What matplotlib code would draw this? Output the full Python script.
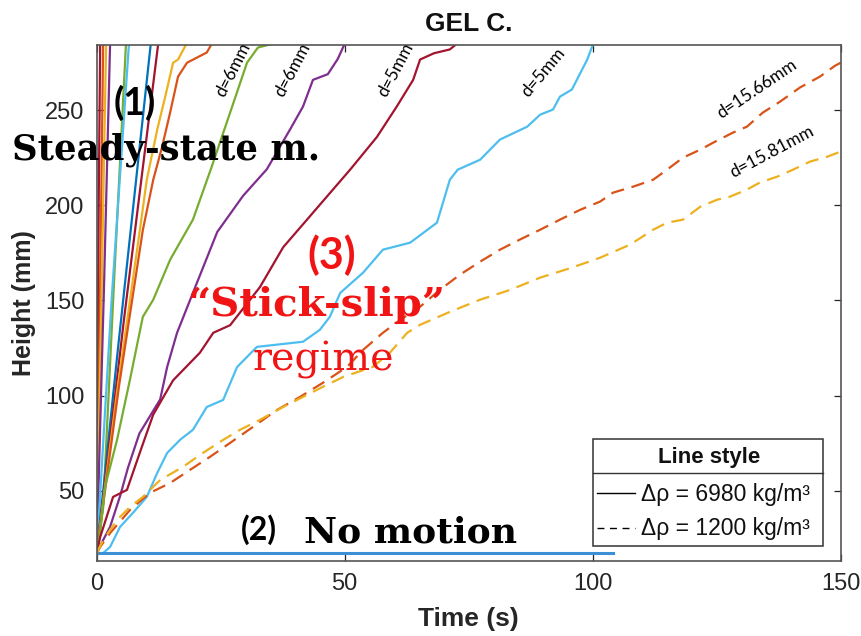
import matplotlib
matplotlib.use('Agg')
import matplotlib.pyplot as plt
from matplotlib.lines import Line2D
from matplotlib.patches import Rectangle

plt.rcParams['font.family'] = ['Liberation Sans', 'DejaVu Sans']

# ---------------- data (time s, height mm) ----------------
# steady-state (fast) runs, solid lines
t_ss1 = [0, 0.4, 0.7];            h_ss1 = [17.2, 200, 285]
t_ss2 = [0, 0.8, 1.3];            h_ss2 = [17.2, 180, 285]
t_ss3 = [0, 1.1, 1.9];            h_ss3 = [17.2, 170, 285]
t_ss4 = [0, 1.5, 2.7];            h_ss4 = [17.2, 160, 285]
t_ss5 = [0, 1.3, 3.5, 5.9];       h_ss5 = [17.2, 41, 160, 285]
t_ss6 = [0, 3.0, 6.5];            h_ss6 = [17.2, 150, 285]
t_ss7 = [0, 4.3, 10.9];           h_ss7 = [17.2, 125, 285]
t_ss8 = [0, 5.5, 12.4];           h_ss8 = [17.2, 140, 285]
t_ss9 = [0, 4, 8.7, 10.1, 12.2, 13.8, 15.4, 16.4, 18.1]
h_ss9 = [17.2, 100, 187, 213.5, 239.8, 257, 275, 276.7, 285]
t_ss10 = [0, 4.5, 9.3, 11.4, 13.2, 14.8, 16.4, 18.2, 22.2, 23.2]
h_ss10 = [17.2, 105, 187, 213.5, 230.9, 248.8, 267.7, 275, 280.4, 285]

# stick-slip runs, solid lines
t_green6 = [0, 0.67, 1.67, 4.1, 6.7, 9.3, 11.4, 14.8, 19.4, 23.2, 26.9, 30.3, 32.5, 35.5]
h_green6 = [17.2, 27.7, 51.9, 76.7, 108.3, 141.4, 150.4, 171.4, 192.5, 220.4, 248.8, 275, 283, 285]
t_purple6 = [0, 1.3, 2.7, 4.7, 6.3, 8.6, 12.8, 14.2, 16.2, 19.4, 24.3, 29.5, 34.3, 39, 41.6, 43.6, 46.6, 48.6, 50]
h_purple6 = [17.2, 24, 31, 47, 62, 80, 98, 115, 133, 154, 186, 205, 219, 240, 252, 266, 269, 277, 285]
t_red5 = [0, 0.7, 3.3, 6.1, 8.7, 11.4, 15.4, 20.8, 23.5, 26.9, 32.9, 37.6, 42.4, 46.4, 51.1, 56.5, 60.5, 63.8, 65.2, 68, 71.2, 72.6]
h_red5 = [17.2, 25.6, 46.7, 50.4, 70, 90, 108, 122.5, 133, 137, 157, 178, 192.5, 204.6, 218.8, 236, 252, 266, 276.7, 280, 282, 285]
t_blue5 = [0, 1.3, 2.7, 4.7, 7.3, 10.1, 12.2, 14.2, 16.8, 19.4, 22.2, 25.5, 28.3, 32.3, 41.6, 45, 47, 49.1, 53.7, 57.7,
           63.2, 68.6, 71.2, 72.8, 77.3, 81.3, 86.8, 89.4, 92, 93.4, 95.8, 98.9, 100.1]
h_blue5 = [17.2, 17.2, 20.4, 30.9, 38.3, 46.7, 59.3, 69.8, 76.7, 82, 94, 97.7, 115, 125.6, 128.3, 134.6, 141.4, 154, 164.6, 176.7,
           180.4, 190.9, 213.5, 218.8, 224, 234.6, 241.4, 247.7, 250.4, 257.2, 260.9, 276.7, 285]

# no motion
t_nomotion = [0, 104]
h_nomotion = [17.2, 17.2]

# light spheres, dashed lines
t_d1566 = [0, 0.7, 2.7, 6.7, 10.7, 14.8, 18.8, 22.8, 26.9, 31.5, 36.4, 41, 45.6, 50.5, 53.7, 57.7, 61.2, 65.2, 69.2, 73.2,
           77.3, 81.3, 85.3, 89.4, 93.4, 97.5, 101.5, 104.1, 108.1, 112.2, 115, 118.2, 121.7, 124.3, 128.3, 131.1, 134.3,
           137.8, 141.8, 145.8, 148.9, 150]
h_d1566 = [17.2, 20.4, 27.7, 39.8, 48.8, 54, 60.9, 67.7, 75.1, 83.5, 92.5, 99.3, 106.7, 115.1, 124, 133, 139.8, 146.7, 155.6, 163.5,
           170.4, 176.7, 182, 187.2, 192.5, 197.7, 202, 206.7, 209.8, 213.5, 218.8, 225.1, 229.3, 233, 238.3, 241.4, 248.8,
           254.6, 262, 267.7, 273.5, 275]
t_d1581 = [0, 1.3, 4.1, 6.7, 9.3, 12.8, 17.4, 21.4, 25.5, 28.9, 32.9, 37.6, 41.6, 45.6, 49.7, 55.7, 59.1, 62.6, 65.2, 71.2,
           77.3, 83.4, 89.4, 95.5, 101.5, 107.5, 112.2, 115, 118.2, 121.7, 125.1, 127.7, 131.1, 133.7, 137.2, 140.4, 143.8, 147.3, 150]
h_d1581 = [17.2, 24, 34.6, 41.4, 46.7, 55.6, 62.5, 69.8, 76.7, 82, 87.2, 94, 99.3, 104.6, 109.8, 115.1, 122.5, 133, 137.2, 144,
           150.4, 155.6, 162, 167, 172.5, 179.3, 187.2, 190.9, 192.5, 199.3, 203, 204.6, 208.3, 212, 215.1, 218.8, 223, 225.6, 228.3]

x_ticks = [0, 50, 100, 150]
y_ticks = [50, 100, 150, 200, 250]

# MATLAB default colour order
C_BLUE, C_ORANGE, C_YELLOW, C_PURPLE = '#0072BD', '#D95319', '#EDB120', '#7E2F8E'
C_GREEN, C_LBLUE, C_DRED = '#77AC30', '#4DBEEE', '#A2142F'

W, H = 862, 636
fig = plt.figure(figsize=(W / 100, H / 100), dpi=100)
ax_l, ax_r, ax_t, ax_b = 96.7, 840.7, 44.5, 561
ax = fig.add_axes([ax_l / W, 1 - ax_b / H, (ax_r - ax_l) / W, (ax_b - ax_t) / H])

lw = 1.6
solid = [
    (t_ss1, h_ss1, C_DRED), (t_ss2, h_ss2, C_ORANGE), (t_ss3, h_ss3, C_YELLOW), (t_ss4, h_ss4, C_PURPLE),
    (t_ss5, h_ss5, C_GREEN), (t_ss6, h_ss6, C_LBLUE), (t_ss7, h_ss7, C_BLUE), (t_ss8, h_ss8, C_DRED),
    (t_ss9, h_ss9, C_YELLOW), (t_ss10, h_ss10, C_ORANGE),
    (t_green6, h_green6, C_GREEN), (t_purple6, h_purple6, C_PURPLE),
    (t_red5, h_red5, C_DRED), (t_blue5, h_blue5, C_LBLUE),
]
for t, h, c in solid:
    ax.plot(t, h, color=c, lw=lw, solid_joinstyle='round')
ax.plot(t_nomotion, h_nomotion, color='#3d8fd6', lw=2.2)
ax.plot(t_d1566, h_d1566, color=C_ORANGE, lw=lw, dashes=(6, 3.5))
ax.plot(t_d1581, h_d1581, color=C_YELLOW, lw=lw, dashes=(6, 3.5))

ax.set_xlim(0, 150)
ax.set_ylim(13, 284.6)
ax.set_xticks(x_ticks)
ax.set_yticks(y_ticks)
ax.tick_params(direction='in', length=5, width=0.9, colors='#262626', labelsize=17,
               top=True, right=True, pad=9)
for s in ax.spines.values():
    s.set_color('#555555')
    s.set_linewidth(1.2)

ax.set_title('GEL C.', fontsize=19, fontweight='bold', pad=10, color='#111111')
ax.set_xlabel('Time (s)', fontsize=19, fontweight='bold', color='#262626')
ax.set_ylabel('Height (mm)', fontsize=18, fontweight='bold', color='#262626')
ax.xaxis.set_label_coords(0.5, -0.09)
ax.yaxis.set_label_coords(-0.082, 0.5)

# ---------- annotations ----------
calib = ['Lato', 'DejaVu Sans']
serif = ['DejaVu Serif']
ann = dict(clip_on=False, ha='center', va='center')
ax.text(7.7, 254, '(1)', fontsize=27, fontweight='bold', family=calib, color='black', **ann)
ax.text(13.9, 229.3, 'Steady-state m.', fontsize=25.5, fontweight='bold', family=serif, color='black', **ann)
ax.text(32.6, 29.5, '(2)', fontsize=23, fontweight='bold', family=calib, color='black', **ann)
ax.text(63.2, 28.0, 'No motion', fontsize=26, fontweight='bold', family=serif, color='black', **ann)
ax.text(47.4, 174, '(3)', fontsize=31, fontweight='bold', family=calib, color='#f01414', **ann)
ax.text(44.3, 147.7, '\u201cStick-slip\u201d', fontsize=29, fontweight='bold', family=serif, color='#f01414', **ann)
ax.text(45.6, 118.8, 'regime', fontsize=28.5, family=serif, color='#f01414', **ann)

dl = dict(fontsize=12.5, family=calib, color='black', ha='center', va='center', rotation_mode='anchor')
ax.text(27.5, 271.4, 'd=6mm', rotation=63, **dl)
ax.text(39.4, 271.4, 'd=6mm', rotation=62, **dl)
ax.text(60.2, 271.4, 'd=5mm', rotation=62, **dl)
ax.text(90.0, 269.8, 'd=5mm', rotation=50, **dl)
ax.text(133.1, 261.4, 'd=15.66mm', rotation=34, **dl)
ax.text(136.1, 228.3, 'd=15.81mm', rotation=28, **dl)

# ---------- legend box ("Line style") ----------
def fx(x):
    return x / W

def fy(y):
    return 1 - y / H

fig.add_artist(Rectangle((fx(593), fy(546)), fx(823) - fx(593), fy(439) - fy(546),
                         transform=fig.transFigure, facecolor='white', edgecolor='#333333', lw=1.1))
fig.add_artist(Line2D([fx(593), fx(823)], [fy(473), fy(473)], transform=fig.transFigure, color='#333333', lw=1.0))
fig.text(fx(709), fy(457), 'Line style', fontsize=16, fontweight='bold', ha='center', va='center', color='#111111')
fig.add_artist(Line2D([fx(597), fx(635)], [fy(493), fy(493)], transform=fig.transFigure, color='black', lw=1.0))
fig.add_artist(Line2D([fx(597), fx(635)], [fy(528), fy(528)], transform=fig.transFigure, color='black', lw=1.0,
                      dashes=(5, 4)))
fig.text(fx(641), fy(495), '\u0394\u03c1 = 6980 kg/m\u00b3', fontsize=16.5, ha='left', va='center', color='#111111')
fig.text(fx(641), fy(529), '\u0394\u03c1 = 1200 kg/m\u00b3', fontsize=16.5, ha='left', va='center', color='#111111')

fig.savefig('out.png', dpi=100)
